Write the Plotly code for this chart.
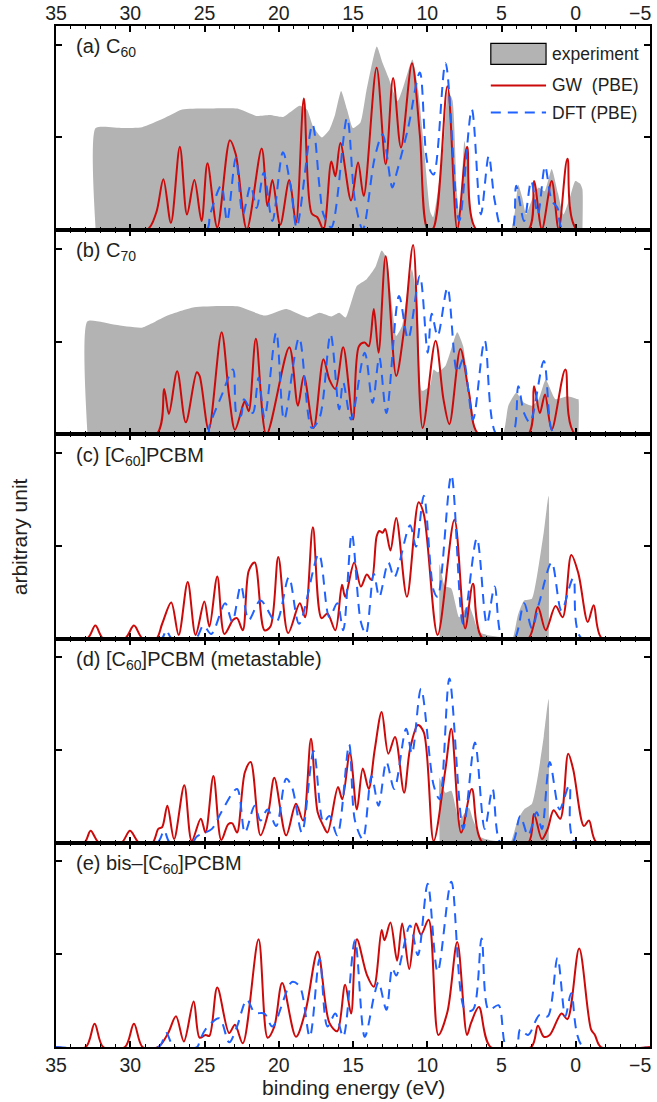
import plotly.graph_objects as go
from plotly.subplots import make_subplots

# ---------------- data (binding energy eV, intensity arb. unit) ----------------
PANEL_LABELS = ["(a) C<sub>60</sub>", "(b) C<sub>70</sub>", "(c) [C<sub>60</sub>]PCBM",
                "(d) [C<sub>60</sub>]PCBM (metastable)", "(e) bis\u2013[C<sub>60</sub>]PCBM"]
X_TICKS = [35, 30, 25, 20, 15, 10, 5, 0]
X_TICK_TEXT = ["35", "30", "25", "20", "15", "10", "5", "0"]
X_EDGE_TICK = -5
X_EDGE_TEXT = "\u22125"
LEGEND_NAMES = ["experiment", "GW  (PBE)", "DFT (PBE)"]

A_EXP = [(32.33,0),(32.33,1.10),(30.5,1.10),(29.2,1.11),(27.8,1.20),(26.5,1.30),(25.0,1.31),(22.8,1.31),
         (21.5,1.23),(20.6,1.24),(19.7,1.22),(18.6,1.34),(18.1,1.30),(17.7,1.12),(17.1,1.00),(16.6,1.08),
         (16.2,1.25),(15.8,1.50),(15.4,1.30),(15.0,1.10),(14.5,1.16),(14.1,1.50),(13.4,1.98),(13.0,1.80),
         (12.6,1.64),(12.0,1.39),(11.6,1.55),(11.0,1.84),(10.6,1.50),(10.2,0.85),(9.8,0.20),(9.6,0.14),
         (9.3,0.40),(8.9,0.92),(8.6,1.50),(8.3,1.40),(8.0,0.40),(7.8,0.10),(7.5,0.96),(7.2,0.60),(6.9,0.03),
         (6.5,0.0),(4.4,0.0),(4.1,0.2),(3.87,0.49),(3.6,0.35),(3.34,0.17),(2.9,0.35),(2.5,0.46),(2.1,0.42),
         (1.62,0.66),(1.2,0.40),(0.83,0.17),(0.4,0.35),(0.03,0.53),(-0.3,0.50),(-0.45,0.44),(-0.45,0)]
A_GW = [(35,0),(28.9,0),(28.25,0.19),(27.77,0.55),(27.26,0.08),(26.66,0.90),(26.18,0.17),(25.68,0.54),
        (25.20,0.10),(24.80,0.72),(24.14,0.03),(23.29,0.97),(22.9,0.82),(22.15,0.01),(21.15,0.88),(20.75,0.26),
        (20.43,0.54),(19.90,0.06),(19.29,0.54),(18.84,0.08),(18.31,1.42),(17.78,0.18),(17.4,0.14),(16.99,0.01),
        (16.46,0.74),(16.19,0.58),(15.85,0.94),(15.13,0.32),(14.66,0.73),(14.28,0.37),(13.41,1.75),(12.80,0.71),
        (12.30,1.64),(11.77,0.89),(11.03,1.80),(10.5,1.03),(9.97,0.01),(9.6,0.02),(8.64,1.55),(7.98,0.01),
        (7.32,0.90),(6.66,0),(3.21,0),(2.81,0.53),(2.28,0.01),(1.62,0.53),(1.15,0.01),(0.56,0.77),(-0.10,0),(-5,0)]
A_DFT = [(35,0),(24.9,0),(24.62,0.17),(23.87,0.48),(23.48,0.10),(22.89,0.78),(22.42,0.17),(21.89,0.48),
         (21.49,0.24),(21.01,0.62),(20.43,0.10),(19.72,0.84),(19.19,0.46),(18.79,0.03),(17.73,1.14),(17.25,0.46),
         (16.99,0.17),(16.46,0.03),(15.40,1.21),(14.87,0.32),(14.34,0.01),(13.54,0.78),(13.01,1.03),(12.35,0.46),
         (12.09,0.60),(11.29,1.10),(10.50,1.70),(9.97,0.71),(9.57,0.60),(8.77,1.80),(7.85,0.10),(7.00,1.30),
         (6.39,0.17),(5.86,0.80),(5.46,0.32),(4.93,0),(4.3,0),(4.01,0.48),(3.48,0.10),(3.0,0.53),(2.55,0.17),
         (2.07,0.69),(1.62,0.32),(1.23,0.24),(0.83,0),(-5,0)]

B_EXP = [(32.88,0),(32.88,1.22),(31.0,1.18),(29.2,1.15),(27.5,1.28),(25.7,1.37),(22.8,1.38),(20.9,1.28),
         (19.5,1.35),(18.05,1.26),(17.25,1.31),(16.45,1.27),(15.93,1.31),(15.5,1.26),(14.74,1.60),(14.1,1.67),
         (13.5,1.80),(13.07,1.98),(12.75,1.90),(12.35,1.35),(12.09,1.06),(11.69,1.17),(11.3,1.60),(11.03,1.78),
         (10.63,1.35),(10.36,0.47),(9.83,0.52),(9.57,0.70),(9.30,0.67),(8.77,0.74),(7.98,1.10),(7.58,0.95),
         (7.3,0.59),(6.92,0.23),(6.66,0),(4.93,0),(4.54,0.31),(4.01,0.45),(3.48,0.34),(2.95,0.31),(2.5,0.38),
         (2.02,0.59),(1.36,0.38),(0.56,0.41),(-0.10,0.38),(-0.18,0.38),(-0.18,0)]
B_GW = [(35,0),(28.25,0),(27.72,0.49),(27.40,0.22),(26.84,0.68),(26.26,0.13),(25.52,0.67),(25.33,0.63),
        (24.72,0.05),(23.85,1.10),(23.34,0.41),(22.95,0.05),(22.42,0.31),(22.28,0.36),(22.02,0.25),(21.54,1.03),
        (20.83,0),(19.29,0.94),(18.71,0.31),(18.31,0.63),(17.65,0.07),(16.99,0.81),(16.59,0.59),(16.19,0.49),
        (15.66,0.94),(15.00,0.16),(14.6,0.95),(14.21,0.99),(13.94,0.95),(13.60,1.35),(13.28,0.88),(12.80,1.92),
        (12.09,0.63),(11.56,1.13),(10.95,2.04),(10.31,0.07),(9.44,1.01),(8.91,0.38),(8.51,0.11),(7.77,0.92),
        (7.19,0.45),(6.52,0),(3.21,0),(2.81,0.52),(2.42,0.23),(2.07,0.43),(1.62,0.05),(0.70,0.70),(0.03,0),(-5,0)]
B_DFT = [(35,0),(24.8,0),(24.67,0.09),(23.87,0.41),(23.08,0.70),(22.81,0.20),(22.55,0.20),(22.34,0.38),
         (21.75,0.23),(21.36,0.61),(20.96,0.18),(20.17,1.10),(19.64,0.16),(18.63,1.04),(17.78,0.07),(17.25,0.18),
         (16.51,1.08),(15.93,0.27),(15.66,0.56),(15.13,0.16),(14.21,0.88),(13.68,0.34),(13.23,0.83),(12.75,0.23),
         (11.90,1.49),(11.29,1.03),(10.50,1.71),(9.97,0.88),(9.70,1.30),(9.30,1.06),(8.64,1.58),(7.98,0.67),
         (7.58,0.81),(6.92,0.16),(6.13,1.01),(5.33,0),(4.27,0),(3.87,0.52),(3.48,0.23),(3.08,0.13),(2.15,0.79),
         (1.62,0.05),(1.3,0),(-5,0)]

C_EXP = [(9.17,0),(9.17,0.80),(8.9,0.60),(8.77,0.56),(8.38,0.54),(7.85,0.23),(7.45,0.32),(7.19,0.36),
         (6.92,0.25),(6.52,0.07),(6.0,0.04),(5.2,0.02),(4.9,0),(4.27,0),(3.9,0.25),(3.48,0.41),(2.95,0.43),
         (2.55,0.73),(2.15,1.15),(1.83,1.54),(1.82,0)]
C_GW = [(35,0),(32.9,0),(32.35,0.14),(31.82,0),(30.36,0),(29.75,0.14),(29.17,0),(28.25,0),(27.85,0.16),
        (27.24,0.39),(26.74,0.04),(26.13,0.61),(25.60,0.04),(25.01,0.40),(24.67,0.13),(24.14,0.67),(23.66,0.05),
        (23.08,0.20),(22.81,0.22),(22.42,0.09),(22.02,0.73),(21.62,0.82),(20.96,0.09),(20.56,0.13),(20.03,0.88),
        (19.37,0.06),(18.58,0.38),(18.23,0.23),(17.70,1.20),(17.12,0.22),(16.72,0.27),(16.19,0.09),(15.74,0.58),
        (15.53,0.45),(14.92,0.82),(14.47,0.56),(14.07,0.69),(13.75,0.63),(13.41,1.10),(13.23,1.16),(13.01,1.14),
        (12.83,1.18),(12.48,0.95),(12.09,1.30),(11.37,0.45),(10.58,1.47),(10.23,1.34),(9.30,0.04),(8.17,1.28),
        (7.45,0.11),(6.92,0.59),(6.26,0),(3.21,0),(2.55,0.34),(2.02,0.09),(1.36,0.35),(0.88,0.23),(0.30,0.90),
        (-0.18,0.70),(-0.81,0.18),(-1.21,0.36),(-1.77,0),(-5,0)]
C_DFT = [(35,0),(27.9,0),(27.58,0.09),(27.2,0),(25.6,0),(25.07,0.14),(24.54,0.05),(23.61,0.38),(23.13,0.18),
         (22.55,0.57),(22.02,0.20),(21.23,0.41),(20.17,0.18),(19.32,0.66),(18.63,0.16),(17.30,0.91),(16.59,0.23),
         (16.06,0.38),(15.66,0.09),(15.08,1.13),(14.47,0.18),(14.13,0.05),(13.60,0.70),(13.23,0.45),(12.62,0.82),
         (12.22,0.66),(11.16,1.22),(10.76,0.99),(10.23,1.54),(9.57,0.52),(9.30,0.45),(8.38,1.76),(7.58,0.16),
         (6.66,1.08),(5.99,0.16),(5.46,0.56),(4.93,0),(4.14,0),(3.48,0.38),(2.95,0.11),(2.47,0.38),(1.62,0.82),
         (0.96,0.30),(0.17,0.65),(-0.40,0),(-5,0)]

D_EXP = [(9.17,0),(9.17,0.70),(8.9,0.57),(8.77,0.54),(8.38,0.56),(7.85,0.24),(7.45,0.33),(7.19,0.38),
         (6.92,0.25),(6.39,0.06),(5.8,0.03),(5.0,0.01),(4.9,0),(4.40,0),(3.9,0.25),(3.48,0.36),(2.95,0.42),
         (2.55,0.72),(2.15,1.15),(1.83,1.55),(1.82,0)]
D_GW = [(35,0),(33.1,0),(32.67,0.13),(32.1,0),(30.6,0),(30.02,0.13),(29.4,0),(28.51,0),(28.11,0.15),
        (27.85,0.17),(27.50,0.40),(27.05,0.04),(26.36,0.62),(25.86,0.02),(25.25,0.26),(24.93,0.11),(24.40,0.72),
        (23.87,0.03),(23.40,0.20),(23.13,0.21),(22.81,0.11),(22.28,0.76),(21.89,0.87),(21.23,0.08),(20.70,0.33),
        (20.30,0.70),(19.50,0.08),(18.84,0.42),(18.36,0.24),(17.83,1.12),(17.38,0.33),(16.99,0.18),(16.72,0.11),
        (16.01,0.60),(15.72,0.47),(15.21,0.97),(14.74,0.36),(14.34,0.80),(13.94,0.58),(13.54,1.00),(13.07,1.41),
        (12.62,0.96),(12.17,1.14),(11.56,0.54),(11.16,1.01),(10.63,1.27),(10.23,1.19),(9.57,0.02),(8.77,0.80),
        (8.38,1.23),(7.72,0.11),(7.00,0.58),(6.26,0),(3.21,0),(2.81,0.31),(2.28,0.04),(1.89,0.15),(1.49,0.35),
        (1.04,0.26),(0.51,0.96),(0.17,0.79),(-0.55,0.18),(-0.89,0.24),(-1.42,0),(-5,0)]
D_DFT = [(35,0),(28.2,0),(27.72,0.13),(27.32,0),(25.86,0),(25.5,0.07),(24.5,0.15),(23.87,0.33),(22.81,0.58),
         (22.28,0.11),(21.62,0.40),(21.23,0.24),(20.75,0.36),(20.17,0.18),(19.50,0.69),(19.11,0.60),(18.44,0.11),
         (17.65,0.99),(16.99,0.22),(16.59,0.29),(16.06,0.08),(15.26,1.06),(14.87,0.24),(14.34,0.04),(13.75,0.72),
         (13.28,0.40),(12.75,0.87),(12.22,0.58),(11.42,1.23),(11.03,0.96),(10.42,1.66),(9.57,0.62),(9.17,0.47),
         (8.51,1.77),(7.58,0.15),(6.79,1.08),(6.13,0.15),(5.60,0.58),(5.07,0),(4.27,0),(3.74,0.29),(3.21,0.08),
         (2.63,0.33),(2.28,0.15),(1.75,0.87),(1.09,0.36),(0.43,0.62),(0.03,0),(-5,0)]

E_EXP = []
E_GW = [(35,0),(33.0,0),(32.40,0.25),(31.82,0),(30.36,0),(29.75,0.25),(29.17,0),(28.11,0),(27.45,0.15),
        (26.92,0.33),(26.39,0.06),(25.73,0.49),(25.33,0.10),(24.93,0.13),(24.67,0.12),(24.14,0.64),(23.34,0.15),
        (22.95,0.24),(22.42,0.04),(21.36,1.16),(20.75,0.10),(20.30,0.22),(19.77,0.69),(18.84,0.11),(18.18,0.40),
        (17.38,1.03),(16.59,0.26),(16.06,0.17),(15.53,0.67),(15.13,0.36),(14.74,1.16),(14.07,0.78),(13.60,0.65),
        (13.07,1.26),(12.88,1.15),(12.48,1.34),(12.03,0.93),(11.69,1.33),(11.21,0.84),(10.76,1.33),(10.42,1.21),
        (9.91,1.37),(9.25,0.13),(8.64,0.38),(7.98,1.13),(7.32,0.13),(7.05,0.26),(6.52,0.43),(5.73,0),(3.0,0),
        (2.55,0.23),(2.15,0.11),(1.75,0.13),(0.96,0.36),(0.56,0.30),(-0.23,1.06),(-1.03,0.19),(-1.29,0.13),
        (-1.69,0),(-5,0)]
E_DFT = [(35,0),(28.1,0),(27.58,0.15),(27.05,0),(25.5,0),(25.33,0.06),(24.93,0.19),(24.0,0.31),(23.34,0.05),
         (22.81,0.22),(22.15,0.51),(21.62,0.37),(20.96,0.36),(20.43,0.22),(19.11,0.70),(18.58,0.65),(17.91,0.11),
         (17.25,0.95),(16.72,0.22),(16.19,0.36),(15.66,0.11),(14.87,1.15),(14.21,0.11),(13.54,0.58),(13.28,0.70),
         (12.75,0.40),(12.35,0.85),(12.09,0.77),(11.16,1.31),(10.63,0.99),(9.97,1.76),(9.30,0.81),(8.38,1.78),
         (7.45,0.40),(6.92,0.40),(6.34,1.17),(5.86,0.40),(5.20,0.45),(4.67,0),(4.0,0),(3.74,0.19),(3.21,0.13),
         (2.42,0.35),(1.89,0.33),(1.23,0.96),(0.70,0.33),(0.30,0.58),(-0.50,0),(-5,0)]

PANELS = [(A_EXP, A_GW, A_DFT), (B_EXP, B_GW, B_DFT), (C_EXP, C_GW, C_DFT),
          (D_EXP, D_GW, D_DFT), (E_EXP, E_GW, E_DFT)]

# ---------------- style ----------------
FONT = "Liberation Sans, Arial, Helvetica, sans-serif"
TXT = "#231f20"
GRAY = "#b3b3b3"
RED = "#cc0a0a"
BLUE = "#1f62ff"
DASH = "10px,7px"
TICK_SIZE = 19.5

fig = make_subplots(rows=5, cols=1, vertical_spacing=0)

for i, (exp, gw, dft) in enumerate(PANELS, start=1):
    if exp:
        fig.add_trace(go.Scatter(x=[p[0] for p in exp], y=[p[1] for p in exp], mode="lines",
                                 line=dict(width=0, shape="spline", smoothing=0.5),
                                 fill="tozeroy", fillcolor=GRAY, hoverinfo="skip",
                                 showlegend=False), row=i, col=1)
    fig.add_trace(go.Scatter(x=[p[0] for p in gw], y=[p[1] for p in gw], mode="lines",
                             line=dict(color=RED, width=2, shape="spline", smoothing=0.9),
                             showlegend=False), row=i, col=1)
    fig.add_trace(go.Scatter(x=[p[0] for p in dft], y=[p[1] for p in dft], mode="lines",
                             line=dict(color=BLUE, width=2, dash=DASH, shape="spline", smoothing=0.9),
                             showlegend=False), row=i, col=1)

fig.update_xaxes(range=[35, -5], tickvals=X_TICKS, ticktext=X_TICK_TEXT, ticks="inside", ticklen=6,
                 tickwidth=1.5, tickcolor="black", automargin=False,
                 minor=dict(dtick=1, tick0=0, ticks="inside", ticklen=3, tickwidth=1.2, tickcolor="black"),
                 showline=True, linewidth=2, linecolor="black", mirror="allticks",
                 showgrid=False, zeroline=False, showticklabels=False,
                 tickfont=dict(family=FONT, size=TICK_SIZE, color=TXT))
fig.update_xaxes(showticklabels=True, side="top", ticklabelstandoff=-4, row=1, col=1)
fig.update_xaxes(showticklabels=True, row=5, col=1)
fig.update_yaxes(range=[0, 2.2], tickvals=[0, 1, 2], ticks="inside", ticklen=6, tickwidth=1.5,
                 tickcolor="black", showline=True, linewidth=2, linecolor="black", mirror="allticks",
                 showgrid=False, zeroline=False, showticklabels=False, automargin=False)

annotations = []
for i, lab in enumerate(PANEL_LABELS, start=1):
    annotations.append(dict(text=lab, xref=f"x{i} domain" if i > 1 else "x domain",
                            yref=f"y{i} domain" if i > 1 else "y domain",
                            x=0.03, y=0.965, xanchor="left", yanchor="top", showarrow=False,
                            font=dict(family=FONT, size=20, color=TXT)))

# right-edge tick label (-5), kept inside the page
annotations.append(dict(text=X_EDGE_TEXT, xref="x", yref="paper", x=X_EDGE_TICK, y=1.0124,
                        xanchor="right", yanchor="middle", xshift=3, showarrow=False,
                        font=dict(family=FONT, size=TICK_SIZE, color=TXT)))
annotations.append(dict(text=X_EDGE_TEXT, xref="x5", yref="paper", x=X_EDGE_TICK, y=-0.0181,
                        xanchor="right", yanchor="middle", xshift=3, showarrow=False,
                        font=dict(family=FONT, size=TICK_SIZE, color=TXT)))

# legend (drawn in panel a)
shapes = [
    dict(type="rect", xref="x domain", yref="y domain", x0=0.732, x1=0.825, y0=0.812, y1=0.915,
         fillcolor=GRAY, line=dict(color="black", width=1.2)),
    dict(type="line", xref="x domain", yref="y domain", x0=0.732, x1=0.825, y0=0.709, y1=0.709,
         line=dict(color=RED, width=2)),
    dict(type="line", xref="x domain", yref="y domain", x0=0.732, x1=0.825, y0=0.576, y1=0.576,
         line=dict(color=BLUE, width=2, dash=DASH)),
]
for name, yy in zip(LEGEND_NAMES, [0.861, 0.709, 0.576]):
    annotations.append(dict(text=name, xref="x domain", yref="y domain", x=0.832, y=yy,
                            xanchor="left", yanchor="middle", showarrow=False,
                            font=dict(family=FONT, size=17.5, color=TXT)))

annotations.append(dict(text="arbitrary unit", xref="paper", yref="paper", x=-0.061, y=0.5,
                        xanchor="center", yanchor="middle", textangle=-90, showarrow=False,
                        font=dict(family=FONT, size=21, color=TXT)))
annotations.append(dict(text="binding energy (eV)", xref="paper", yref="paper", x=0.5, y=-0.0395,
                        xanchor="center", yanchor="middle", showarrow=False,
                        font=dict(family=FONT, size=21, color=TXT)))

fig.update_layout(template="none", width=657, height=1102, margin=dict(l=56, r=7, t=26, b=55),
                  paper_bgcolor="white", plot_bgcolor="white", showlegend=False,
                  annotations=annotations, shapes=shapes)

fig.write_html("out.html", config={"displayModeBar": False},
               post_script="document.body.style.margin='0';document.body.style.overflow='hidden';")
